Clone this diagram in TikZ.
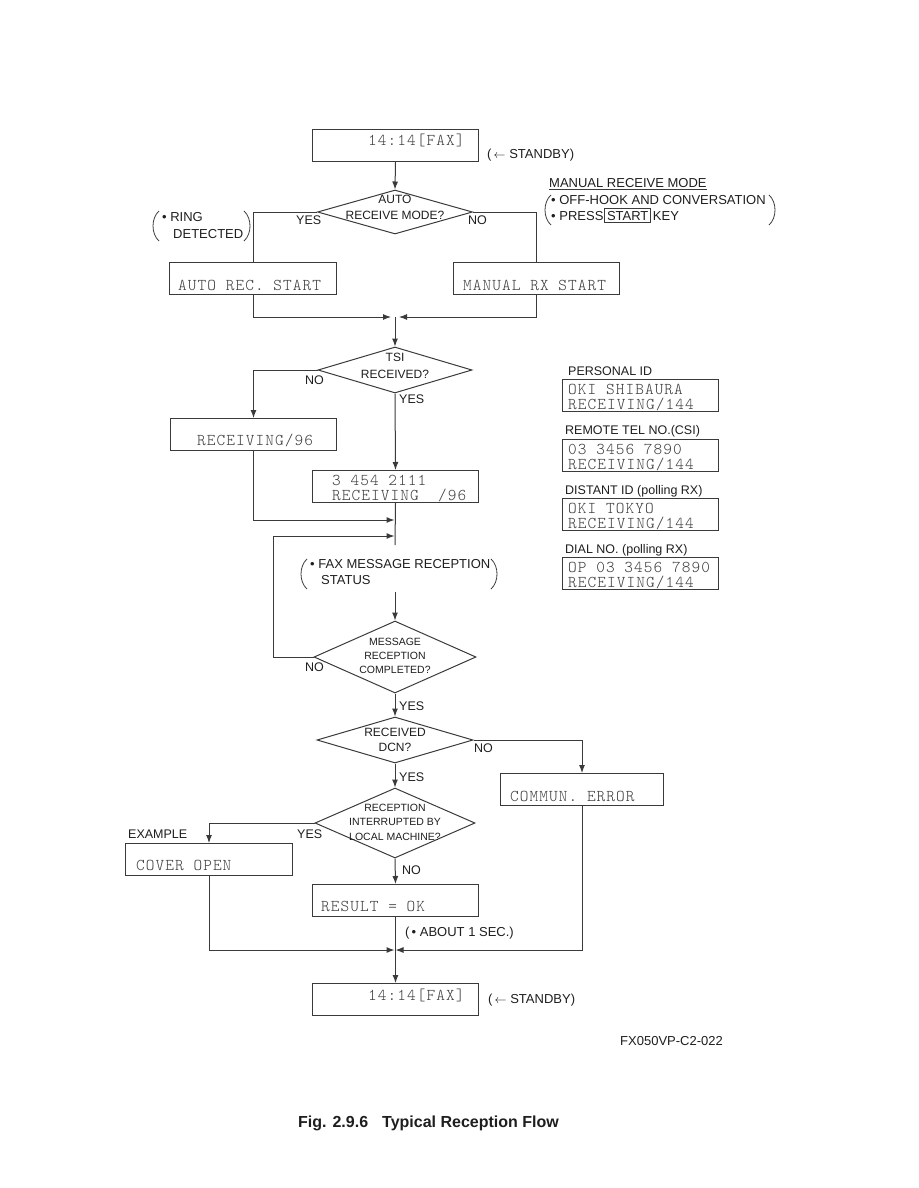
\documentclass[tikz,border=0pt]{standalone}
\usepackage{fontspec}
\setmainfont{Liberation Sans}
\setsansfont{Liberation Sans}
\newfontfamily\lcdfont{lmmonolt10-regular.otf}[LetterSpace=6.5]
\usetikzlibrary{shapes.geometric,arrows.meta,calc}
\definecolor{lin}{HTML}{3A3A3A}
\definecolor{txt}{HTML}{1E1E1E}
\definecolor{mtxt}{HTML}{3C3C3C}
\begin{document}
\begin{tikzpicture}[x=1pt,y=-1pt,
  every node/.style={inner sep=0pt, text=txt},
  box/.style={draw=lin, line width=1pt, rectangle, anchor=north west, minimum width=166pt, minimum height=32pt},
  mono/.style={font=\fontsize{16.5}{15}\lcdfont, text=mtxt, anchor=base west},
  dia/.style={draw=lin, line width=1pt, diamond},
  diatext/.style={align=center, font=\fontsize{12}{15}\selectfont, text=txt},
  diatextsm/.style={align=center, font=\fontsize{10.5}{14.5}\selectfont, text=txt},
  lbl/.style={font=\fontsize{12.5}{14}\selectfont, anchor=base west},
  ann/.style={font=\fontsize{13}{16}\selectfont, anchor=base west},
  conn/.style={draw=lin, line width=1pt},
  arr/.style={conn, -{Latex[length=8pt,width=6pt]}},
  paren/.style={draw=lin, line width=0.8pt}
]
\useasboundingbox (0,0) rectangle (918,1188);

% ---------- top standby ----------
\node[box] (s1) at (312,129) {};
\node[mono] (s1t) at (368,146) {14:14[FAX]};
\node[ann] (sb1) at (487,158) {(\,$\leftarrow$ STANDBY)};

% ---------- auto receive decision ----------
\node[dia, minimum width=155pt, minimum height=44pt, label={[diatext, font=\fontsize{12}{16}\selectfont, yshift=5pt]center:AUTO\\RECEIVE MODE?}] (d1) at (395,212) {};
\draw[arr] (s1.south) -- (d1.north);
\node[lbl] (y1) at (296,224) {YES};
\node[lbl] (n1) at (468,224) {NO};

\node[box, minimum width=167pt] (auto) at (169,262) {};
\node[mono] (autot) at (178,290) {AUTO REC. START};
\node[box] (man) at (453,262) {};
\node[mono] (mant) at (463,290) {MANUAL RX START};
\draw[conn] (d1.west) -| (auto.north);
\draw[conn] (d1.east) -| (man.north);

% ring detected
\draw[paren] (159,211) .. controls (151,218) and (151,234) .. (159,241);
\node[ann] (ring1) at (162,221) {\textbullet\ RING};
\node[ann] (ring2) at (173,238) {DETECTED};
\draw[paren] (244,211) .. controls (252,218) and (252,234) .. (244,241);

% manual receive mode
\node[ann] (mrm) at (549,187) {MANUAL RECEIVE MODE};
\draw[conn, line width=0.8pt] (mrm.base west)++(0,2) -- ($(mrm.base east)+(0,2)$);
\draw[paren] (551,195) .. controls (543,202) and (543,218) .. (551,225);
\node[ann] (mm1) at (551,204) {\textbullet\ OFF-HOOK AND CONVERSATION};
\node[ann] (mm2) at (551,220) {\textbullet\ PRESS\hspace{1pt}\tikz[baseline]{\node[draw=lin, line width=0.8pt, anchor=base, inner sep=0pt, minimum height=14pt, text depth=2pt, text height=12pt, minimum width=44pt] {\,START\,};}\hspace{2pt}KEY};
\draw[paren] (769,195) .. controls (777,202) and (777,218) .. (769,225);

% ---------- merge 1 ----------
\coordinate (m1) at (395,317);
\draw[arr] (auto.south) |- ($(m1)+(-4,0)$);
\draw[arr] (man.south) |- ($(m1)+(4,0)$);

% ---------- TSI decision ----------
\node[dia, minimum width=154pt, minimum height=46pt, label={[diatext, font=\fontsize{12}{17}\selectfont, yshift=4pt]center:TSI\\RECEIVED?}] (d2) at (395,370) {};
\draw[arr] (m1) -- (d2.north);
\node[lbl] (n2) at (305,384) {NO};
\node[lbl] (y2) at (399,403) {YES};

\node[box] (r96) at (170,418) {};
\node[mono] (r96t) at (197,445) {RECEIVING/96};
\draw[arr] (d2.west) -| (r96.north);

\node[box] (b3) at (312,470) {};
\node[mono] (b3a) at (332,485) {3 454 2111};
\node[mono] (b3b) at (332,500) {RECEIVING\ \ /96};
\draw[arr] (d2.south) -- (b3.north);

% ---------- merge 2 ----------
\coordinate (m2) at (395,545);
\coordinate (j1) at (394.5,520);
\coordinate (j2) at (394.5,536);
\draw[conn] (b3.south) -- (m2);
\draw[arr] (r96.south) |- (j1);

% fax message reception status
\draw[paren] (307,559) .. controls (299,566) and (299,582) .. (307,589);
\node[ann] (st1) at (310,568) {\textbullet\ FAX MESSAGE RECEPTION};
\node[ann] (st2) at (321,584) {STATUS};
\draw[paren] (491,559) .. controls (499,566) and (499,582) .. (491,589);

% ---------- message complete decision ----------
\coordinate (m3) at (395,592);
\node[dia, minimum width=162pt, minimum height=72pt, label={[diatextsm, font=\fontsize{10.5}{14}\selectfont, yshift=1pt]center:MESSAGE\\RECEPTION\\COMPLETED?}] (d3) at (395,657) {};
\draw[arr] (m3) -- (d3.north);
\coordinate (lp) at (273,536);
\draw[arr] (d3.west) -| (lp) -- (j2);
\node[lbl] (n3) at (305,671) {NO};
\node[lbl] (y3) at (399,710) {YES};

% ---------- DCN decision ----------
\node[dia, minimum width=156pt, minimum height=46pt, label={[diatext]center:RECEIVED\\DCN?}] (d4) at (395,740) {};
\draw[arr] (d3.south) -- (d4.north);
\node[lbl] (n4) at (474,752) {NO};
\node[lbl] (y4) at (399,781) {YES};

\node[box, minimum width=163pt] (err) at (500,773) {};
\node[mono] (errt) at (510,801) {COMMUN. ERROR};
\draw[arr] (d4.east) -| (err.north);

% ---------- interrupted decision ----------
\node[dia, minimum width=160pt, minimum height=70pt, label={[diatextsm, yshift=1pt]center:RECEPTION\\INTERRUPTED BY\\LOCAL MACHINE?}] (d5) at (395,823) {};
\draw[arr] (d4.south) -- (d5.north);
\node[lbl] (y5) at (297,838) {YES};
\node[lbl] (n5) at (402,874) {NO};
\node[lbl] (ex) at (128,838) {EXAMPLE};

\node[box, minimum width=167pt] (cov) at (125,843) {};
\node[mono] (covt) at (136,870) {COVER OPEN};
\draw[arr] (d5.west) -| (cov.north);

\node[box] (res) at (312,884) {};
\node[mono] (rest) at (321,911) {RESULT = OK};
\draw[arr] (d5.south) -- (res.north);

\node[ann] (ab) at (405,936) {(\,\textbullet\ ABOUT 1 SEC.)};

% ---------- merge 3 and final ----------
\node[box] (fin) at (312,983) {};
\node[mono] (fint) at (368,1000) {14:14[FAX]};
\node[ann] (sb2) at (488,1003) {(\,$\leftarrow$ STANDBY)};
\draw[arr] (res.south) -- (fin.north);
\draw[arr] (cov.south) |- (394.5,950);
\draw[arr] (err.south) |- (395.5,950);

% ---------- right column examples ----------
\node[lbl] (p1l) at (568,375) {PERSONAL ID};
\node[box, minimum width=156pt] (p1) at (562,379) {};
\node[mono] (p1a) at (568,394) {OKI SHIBAURA};
\node[mono] (p1b) at (568,409) {RECEIVING/144};

\node[lbl] (p2l) at (565,434) {REMOTE TEL NO.(CSI)};
\node[box, minimum width=156pt] (p2) at (562,439) {};
\node[mono] (p2a) at (568,454) {03 3456 7890};
\node[mono] (p2b) at (568,469) {RECEIVING/144};

\node[lbl] (p3l) at (565,494) {DISTANT ID (polling RX)};
\node[box, minimum width=156pt] (p3) at (562,498) {};
\node[mono] (p3a) at (568,513) {OKI TOKYO};
\node[mono] (p3b) at (568,528) {RECEIVING/144};

\node[lbl] (p4l) at (565,553) {DIAL NO. (polling RX)};
\node[box, minimum width=156pt] (p4) at (562,557) {};
\node[mono] (p4a) at (568,572) {OP 03 3456 7890};
\node[mono] (p4b) at (568,587) {RECEIVING/144};

% ---------- footer ----------
\node[lbl, font=\fontsize{13}{14}\selectfont] (code) at (620,1045) {FX050VP-C2-022};
\node[anchor=base west, font=\fontsize{16}{18}\selectfont\bfseries] (cap) at (298,1127) {Fig. 2.9.6\hspace{14pt}Typical Reception Flow};
\end{tikzpicture}
\end{document}
